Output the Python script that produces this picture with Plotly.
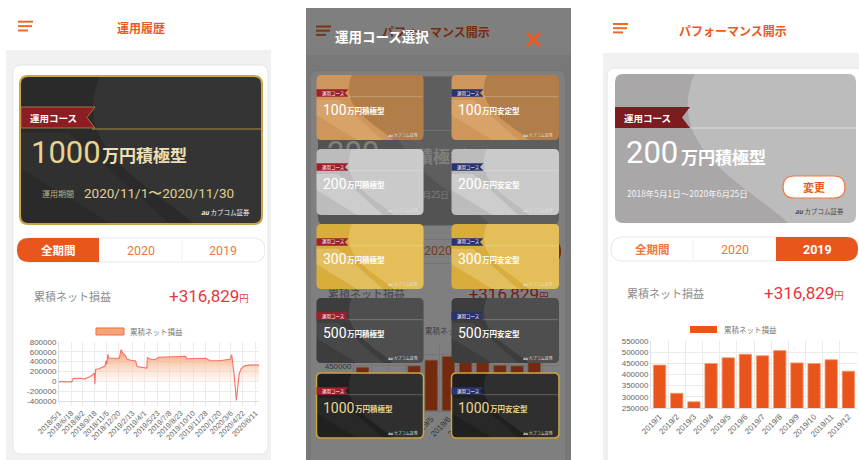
import plotly.graph_objects as go

W, H = 859, 460
JP = "Noto Sans CJK JP"
NUM = "Roboto"
AX = "Liberation Sans"

ORANGE = "#ea5a1f"
TAB_ORANGE = "#f0773f"
RED = "#e8373c"

# ---------------- data ----------------
# cumulative net P/L over the whole period (全期間)
pnl_dates = [
    "2018-05-01", "2018-05-15", "2018-06-01", "2018-06-12", "2018-06-20",
    "2018-06-26", "2018-07-10", "2018-07-25", "2018-08-08", "2018-08-20",
    "2018-09-01", "2018-09-12", "2018-09-17", "2018-09-19", "2018-09-22",
    "2018-10-05", "2018-10-15", "2018-10-22", "2018-10-29", "2018-11-02",
    "2018-11-05", "2018-11-09", "2018-11-13", "2018-12-10", "2018-12-24",
    "2018-12-31", "2019-01-08", "2019-01-15", "2019-01-24", "2019-02-08",
    "2019-02-26", "2019-03-04", "2019-03-20", "2019-04-05", "2019-04-11",
    "2019-04-13", "2019-04-25", "2019-05-12", "2019-05-28", "2019-06-20",
    "2019-07-15", "2019-08-10", "2019-08-28", "2019-09-11", "2019-09-14",
    "2019-10-15", "2019-11-15", "2019-11-28", "2019-12-08", "2019-12-20",
    "2020-01-20", "2020-02-10", "2020-03-03", "2020-03-10", "2020-03-13",
    "2020-03-20", "2020-03-28", "2020-04-03", "2020-04-08", "2020-04-15",
    "2020-04-27", "2020-05-15", "2020-06-05", "2020-06-19", "2020-06-25",
]
pnl_values = [
    -5000, -8000, -6000, -12000, -10000,
    55000, 65000, 62000, 45000, 65000,
    100000, 140000, 165000, -60000, 240000,
    255000, 275000, 300000, 310000, 420000,
    350000, 550000, 470000, 470000, 470000,
    645000, 560000, 540000, 450000, 430000,
    415000, 300000, 290000, 285000, 270000,
    480000, 455000, 440000, 490000, 495000,
    500000, 505000, 515000, 510000, 460000,
    460000, 460000, 470000, 440000, 425000,
    420000, 440000, 450000, 540000, 430000,
    100000, -390000, -100000, 150000, 250000,
    310000, 330000, 338000, 335000, 316829,
]
line_tick_dates = [
    "2018-05-01", "2018-06-18", "2018-08-02", "2018-09-18", "2018-11-05",
    "2018-12-20", "2019-02-13", "2019-04-01", "2019-05-23", "2019-07-08",
    "2019-08-23", "2019-10-10", "2019-11-28", "2020-01-20", "2020-03-06",
    "2020-04-22", "2020-06-11",
]
line_tick_labels = [
    "2018/5/1", "2018/6/18", "2018/8/2", "2018/9/18", "2018/11/5",
    "2018/12/20", "2019/2/13", "2019/4/1", "2019/5/23", "2019/7/8",
    "2019/8/23", "2019/10/10", "2019/11/28", "2020/1/20", "2020/3/6",
    "2020/4/22", "2020/6/11",
]
pnl_axis_values = [800000, 600000, 400000, 200000, 0, -200000, -400000]
pnl_axis_labels = ["800000", "600000", "400000", "200000", "0", "-200000", "-400000"]

# month-end cumulative net P/L for 2019
month_labels = ["2019/1", "2019/2", "2019/3", "2019/4", "2019/5", "2019/6",
                "2019/7", "2019/8", "2019/9", "2019/10", "2019/11", "2019/12"]
month_values = [442000, 316000, 278000, 449000, 475000, 491000,
                484000, 507000, 452000, 449000, 466000, 415000]
bar_axis_values = [550000, 500000, 450000, 400000, 350000, 300000, 250000]

course_sizes = ["100", "200", "300", "500", "1000"]
course_styles = ["積極型", "安定型"]
total_pnl_text = "+316,829"

# ---------------- drawing helpers (pixel -> paper) ----------------
shapes, annotations, underlay = [], [], []


def fx(x):
    return x / W


def fy(y):
    return 1 - y / H


def P(x, y):
    return f"{fx(x):.5f},{fy(y):.5f}"


def rr_path(x0, y0, x1, y1, r, corners=(1, 1, 1, 1)):
    tl, tr, br, bl = [r * c for c in corners]
    d = f"M {P(x0 + tl, y0)} L {P(x1 - tr, y0)}"
    if tr:
        d += f" Q {P(x1, y0)} {P(x1, y0 + tr)}"
    d += f" L {P(x1, y1 - br)}"
    if br:
        d += f" Q {P(x1, y1)} {P(x1 - br, y1)}"
    d += f" L {P(x0 + bl, y1)}"
    if bl:
        d += f" Q {P(x0, y1)} {P(x0, y1 - bl)}"
    d += f" L {P(x0, y0 + tl)}"
    if tl:
        d += f" Q {P(x0, y0)} {P(x0 + tl, y0)}"
    return d + " Z"


def ribbon_path(x0, y0, x1, y1, notch):
    ym = (y0 + y1) / 2
    return f"M {P(x0, y0)} L {P(x1, y0)} L {P(x1 - notch, ym)} L {P(x1, y1)} L {P(x0, y1)} Z"


def lobe_path(x0, y0, x1, y1, r):
    w, h = x1 - x0, y1 - y0
    return (f"M {P(x0 + 0.33 * w, y0)} C {P(x0 + 0.2 * w, y0 + 0.5 * h)} "
            f"{P(x0 + 0.55 * w, y0 + 0.75 * h)} {P(x0 + 0.72 * w, y1)} "
            f"L {P(x1 - r, y1)} Q {P(x1, y1)} {P(x1, y1 - r)} "
            f"L {P(x1, y0 + r)} Q {P(x1, y0)} {P(x1 - r, y0)} Z")


def glint_path(x0, y0, x1, y1):
    # soft diagonal highlight across the lower half of a card
    w, h = x1 - x0, y1 - y0
    return (f"M {P(x0, y0 + 0.62 * h)} L {P(x0 + 0.38 * w, y1)} L {P(x0 + 0.62 * w, y1)} "
            f"L {P(x0 + 0.2 * w, y0 + 0.38 * h)} L {P(x0, y0 + 0.38 * h)} Z")


def add_path(d, fill, line="rgba(0,0,0,0)", width=0, layer="below"):
    shapes.append(dict(type="path", path=d, xref="paper", yref="paper",
                       fillcolor=fill, line=dict(color=line, width=width), layer=layer))


def add_rect(x0, y0, x1, y1, fill, layer="below"):
    shapes.append(dict(type="rect", xref="paper", yref="paper",
                       x0=fx(x0), x1=fx(x1), y0=fy(y1), y1=fy(y0),
                       fillcolor=fill, line=dict(width=0), layer=layer))


def add_line(x0, y0, x1, y1, color, width, layer="below"):
    shapes.append(dict(type="line", xref="paper", yref="paper",
                       x0=fx(x0), x1=fx(x1), y0=fy(y0), y1=fy(y1),
                       line=dict(color=color, width=width), layer=layer))


def add_text(x, y, text, size, color, anchor="center", family=JP, sink=None):
    if sink is not None:
        sink.append((x, y, text, size, color, anchor, family))
        return
    annotations.append(dict(x=fx(x), y=fy(y), xref="paper", yref="paper", text=text,
                            showarrow=False, xanchor=anchor, yanchor="middle",
                            font=dict(size=size, color=color, family=family)))


def hamburger(x, y0, gap):
    for k, ln in enumerate((15, 14, 10)):
        add_line(x, y0 + k * gap, x + ln, y0 + k * gap, "#ee6a2c", 2)


# ---------------- left screen: 運用履歴 ----------------
add_rect(6, 0, 271, 460, "#f1f1f1")
add_rect(6, 0, 271, 50, "#ffffff")
hamburger(18, 21.7, 4.4)
add_text(141, 28, "<b>運用履歴</b>", 12, ORANGE)
add_path(rr_path(13, 65, 268, 454, 8), "#ffffff", "#e6e6e6", 1)

add_path(rr_path(20, 76, 262, 224, 8), "#2a2a2a", "#c9a548", 2)
add_path(lobe_path(20, 76, 262, 224, 8), "rgba(255,255,255,0.05)")
add_path(glint_path(20, 76, 262, 224), "rgba(255,255,255,0.03)")
add_line(92, 129, 261, 129, "#a88a3e", 1)
add_path(ribbon_path(21, 107, 95, 128, 8), "#8e1d23", "#b08a40", 0.8)
add_text(28, 117.5, "<b>運用コース</b>", 9.5, "#ffffff", "left")
add_text(29, 152, course_sizes[4], 31, "#e6d48f", "left", NUM)
add_text(100, 155, "<b>万円積極型</b>", 17, "#ece0b4", "left")
add_text(40, 193, "運用期間", 8, "#bfae7a", "left")
add_text(82, 193, "2020/11/1〜2020/11/30", 13.5, "#e0cf8e", "left", NUM)
add_text(252, 212, "<b><i>au</i></b> カブコム証券", 6.5, "#f0f0f0", "right")

add_path(rr_path(17, 238, 265, 262, 12), "#ffffff", "#e8e8e8", 1)
add_path(rr_path(17, 238, 99, 262, 12, (1, 0, 0, 1)), "#e9561d")
add_line(182, 240, 182, 260, "#eeeeee", 1)
add_text(58, 250, "<b>全期間</b>", 11.5, "#ffffff")
add_text(141, 250, "2020", 12.5, TAB_ORANGE, "center", NUM)
add_text(223, 250, "2019", 12.5, TAB_ORANGE, "center", NUM)

add_text(32, 296, "累積ネット損益", 11, "#8a8a8a", "left")
add_text(251, 296, total_pnl_text + "<span style='font-size:10px'>円</span>", 17, RED, "right", NUM)

add_path(rr_path(96, 328, 124, 335, 0.1), "#f6a57a", "#ef6c3a", 1)
add_text(128, 331.5, "累積ネット損益", 7.5, "#777777", "left")


# ---------------- performance page (right screen, and dimmed under the modal) ----------------
def performance_page(dx, dy, xmax, sink, covered=False):
    hamburger(613 + dx, 24 + dy, 4.2)
    add_text(733 + dx, 31 + dy, "<b>パフォーマンス開示</b>", 12, ORANGE, "center", JP, sink)
    add_path(rr_path(607 + dx, 68 + dy, xmax, 485, 8), "#ffffff", "#e4e4e4", 1)

    cx0, cy0, cx1, cy1 = 615 + dx, 74 + dy, 856 + dx, 223 + dy
    add_path(rr_path(cx0, cy0, cx1, cy1, 8), "#a9a7a7")
    add_path(lobe_path(cx0, cy0, cx1, cy1, 8), "rgba(255,255,255,0.24)")
    add_line(cx0 + 75, 128 + dy, cx1, 128 + dy, "rgba(255,255,255,0.5)", 1)
    add_path(ribbon_path(cx0, 107 + dy, 690 + dx, 128 + dy, 8), "#7d1b21")
    add_path(rr_path(783 + dx, 176 + dy, 845 + dx, 198 + dy, 11), "#ffffff", "#ee7a48", 1.2)
    add_path(rr_path(611 + dx, 237 + dy, 858 + dx, 261 + dy, 12), "#ffffff", "#e8e8e8", 1)
    add_path(rr_path(776 + dx, 237 + dy, 858 + dx, 261 + dy, 12, (0, 1, 1, 0)), "#e9561d")
    add_line(693 + dx, 239 + dy, 693 + dx, 259 + dy, "#eeeeee", 1)
    add_rect(690 + dx, 326 + dy, 717 + dx, 333 + dy, "#e9541c")

    add_text(624 + dx, 153 + dy, course_sizes[1], 31, "#ffffff", "left", NUM, sink)
    add_text(679 + dx, 156 + dy, "<b>万円積極型</b>", 17, "#ffffff", "left", JP, sink)
    add_text(625 + dx, 193 + dy, "2018年5月1日〜2020年6月25日", 8.5, "#f4f4f4", "left", JP, sink)
    add_text(735 + dx, 249 + dy, "2020", 12.5, TAB_ORANGE, "center", NUM, sink)
    add_text(625 + dx, 293 + dy, "累積ネット損益", 11, "#8a8a8a", "left", JP, sink)
    add_text(846 + dx, 293 + dy, total_pnl_text + "<span style='font-size:10px'>円</span>",
             17, RED, "right", NUM, sink)
    add_text(722 + dx, 329.5 + dy, "累積ネット損益", 7.5, "#777777", "left", JP, sink)
    if not covered:
        # these sit entirely behind the course cards when the modal is open
        add_text(622 + dx, 117.5 + dy, "<b>運用コース</b>", 9.5, "#ffffff", "left", JP, sink)
        add_text(814 + dx, 187 + dy, "<b>変更</b>", 11, ORANGE, "center", JP, sink)
        add_text(846 + dx, 211 + dy, "<b><i>au</i></b> カブコム証券", 6.5, "#4a4a4a", "right", JP, sink)
        add_text(652 + dx, 249 + dy, "<b>全期間</b>", 11.5, TAB_ORANGE, "center", JP, sink)
        add_text(817 + dx, 249 + dy, "<b>2019</b>", 12.5, "#ffffff", "center", NUM, sink)


# right screen
add_rect(603, 0, 859, 460, "#f1f1f1")
add_rect(603, 0, 859, 53, "#ffffff")
performance_page(0, 0, 866, None)

# middle screen: same page underneath a dark overlay
add_rect(306, 8, 571, 460, "#f1f1f1")
add_rect(306, 8, 571, 55, "#ffffff")
performance_page(-297, 2.5, 566, underlay, covered=True)
add_rect(306, 8, 571, 460, "rgba(0,0,0,0.5)", layer="above")

# course selection modal
add_text(333, 36, "<b>運用コース選択</b>", 13.5, "#ffffff", "left")
add_line(527, 33, 540, 46, "#f0581e", 3, layer="above")
add_line(540, 33, 527, 46, "#f0581e", 3, layer="above")

card_cols = [(316.5, 423.5), (451.5, 559.0)]
card_rows = [(75, 140), (149, 215), (224, 289), (298, 363), (373, 438)]
card_looks = [  # base, sheen, glint, title colour, border
    ("#cf965b", "rgba(110,68,30,0.30)", "rgba(255,220,170,0.18)", "#ffffff", None),
    ("#bcbcbc", "rgba(255,255,255,0.22)", "rgba(255,255,255,0.25)", "#ffffff", None),
    ("#d8ad3c", "rgba(255,236,160,0.30)", "rgba(255,245,200,0.25)", "#ffffff", None),
    ("#3d3d3d", "rgba(255,255,255,0.09)", "rgba(255,255,255,0.06)", "#ffffff", None),
    ("#202020", "rgba(255,255,255,0.07)", "rgba(255,255,255,0.04)", "#e9d48e", "#c9a340"),
]
ribbon_cols = ["#a11f2b", "#29336e"]
for i, size in enumerate(course_sizes):
    y0, y1 = card_rows[i]
    base, sheen, glint, tcol, border = card_looks[i]
    for j, style in enumerate(course_styles):
        x0, x1 = card_cols[j]
        add_path(rr_path(x0, y0, x1, y1, 5), base, border or "rgba(0,0,0,0)",
                 1.5 if border else 0, layer="above")
        add_path(lobe_path(x0, y0, x1, y1, 5), sheen, layer="above")
        add_path(glint_path(x0, y0, x1, y1), glint, layer="above")
        add_line(x0 + 30, y0 + 21.7, x1 - 1, y0 + 21.7, "rgba(255,255,255,0.3)", 0.8, layer="above")
        add_path(ribbon_path(x0, y0 + 14.3, x0 + 32, y0 + 21.7, 3.5), ribbon_cols[j], layer="above")
        add_text(x0 + 3, y0 + 18, "運用コース", 4.5, "#ffffff", "left")
        add_text(x0 + 4.5, y0 + 34.5, size, 14, tcol, "left", NUM)
        add_text(x0 + 5 + 7.9 * len(size), y0 + 35.5, "<b>万円" + style + "</b>", 7.5, tcol, "left")
        add_text(x1 - 4, y1 - 5, "<b><i>au</i></b> カブコム証券", 4, "#dddddd", "right")

# ---------------- traces ----------------
fig = go.Figure()

fig.add_trace(go.Scatter(
    x=pnl_dates, y=pnl_values, mode="lines",
    line=dict(color="#f6716b", width=1.1),
    fill="tozeroy",
    fillgradient=dict(type="vertical", start=0, stop=620000,
                      colorscale=[[0, "rgba(253,226,208,0.25)"], [1, "rgba(242,140,85,0.85)"]]),
    hoverinfo="skip", showlegend=False, xaxis="x", yaxis="y"))

for xa, ya in (("x2", "y2"), ("x3", "y3")):
    fig.add_trace(go.Bar(
        x=month_labels, y=month_values,
        marker=dict(color="#e9541c", line=dict(color="#f59a70", width=0.8)),
        hoverinfo="skip", showlegend=False, xaxis=xa, yaxis=ya))

pos = {"left": "middle right", "center": "middle center", "right": "middle left"}
for (x, y, text, size, color, anchor, family) in underlay:
    fig.add_trace(go.Scatter(
        x=[x], y=[y], mode="text", text=[text], textposition=pos[anchor],
        textfont=dict(size=size, color=color, family=family),
        hoverinfo="skip", showlegend=False, cliponaxis=False, xaxis="x4", yaxis="y4"))


# ---------------- axes & layout ----------------
def dom_x(a, b):
    return [a / W, b / W]


def dom_y(top, bottom):
    return [1 - bottom / H, 1 - top / H]


GRID = "#ebebeb"
TF = dict(size=8, color="#666666", family=AX)


def bar_axes(xdom, ydom, xname, yname, xtext, ytext):
    xa = dict(domain=xdom, anchor=yname, type="category", tickangle=-45,
              tickmode="array", tickvals=month_labels, ticktext=xtext,
              tickfont=TF, showgrid=True, gridcolor=GRID, tickson="boundaries",
              ticks="", showline=True, linecolor="#e0e0e0", fixedrange=True, automargin=False)
    ya = dict(domain=ydom, anchor=xname, range=[250000, 550000],
              tickmode="array", tickvals=bar_axis_values, ticktext=ytext,
              tickfont=TF, showgrid=True, gridcolor=GRID,
              zeroline=False, showline=True, linecolor="#e0e0e0", fixedrange=True, automargin=False)
    return xa, ya


bar_axis_labels = [str(v) for v in bar_axis_values]
# under the modal only the labels between the cards are left showing
hidden_x = [m if m in ("2019/5", "2019/6", "2019/7") else "" for m in month_labels]
hidden_y = [t if t == "450000" else "" for t in bar_axis_labels]

xa2, ya2 = bar_axes(dom_x(651, 857), dom_y(341, 408), "x2", "y2", month_labels, bar_axis_labels)
xa3, ya3 = bar_axes(dom_x(354, 560), dom_y(343.5, 410.5), "x3", "y3", hidden_x, hidden_y)

fig.update_layout(
    template="none",
    width=W, height=H,
    margin=dict(l=0, r=0, t=0, b=0, pad=0, autoexpand=False),
    paper_bgcolor="#ffffff", plot_bgcolor="rgba(0,0,0,0)",
    showlegend=False, bargap=0.28,
    font=dict(family=JP),
    xaxis=dict(domain=dom_x(59, 259), anchor="y", type="date",
               range=[pnl_dates[0], pnl_dates[-1]], tickmode="array",
               tickvals=line_tick_dates, ticktext=line_tick_labels, tickangle=-45,
               tickfont=dict(size=7.5, color="#666666", family=AX),
               showgrid=True, gridcolor=GRID, ticks="outside", ticklen=4, tickcolor=GRID,
               showline=True, linecolor="#dddddd", fixedrange=True, automargin=False),
    yaxis=dict(domain=dom_y(342, 401), anchor="x", range=[-400000, 800000],
               tickmode="array", tickvals=pnl_axis_values, ticktext=pnl_axis_labels,
               tickfont=TF, showgrid=True, gridcolor=GRID, zeroline=False,
               showline=True, linecolor="#dddddd", fixedrange=True, automargin=False),
    xaxis2=xa2, yaxis2=ya2, xaxis3=xa3, yaxis3=ya3,
    xaxis4=dict(domain=[0, 1], anchor="y4", range=[0, W], visible=False,
                fixedrange=True, automargin=False),
    yaxis4=dict(domain=[0, 1], anchor="x4", range=[H, 0], visible=False,
                fixedrange=True, automargin=False),
    shapes=shapes, annotations=annotations,
)

fig.write_html("out.html", config={"displayModeBar": False})
